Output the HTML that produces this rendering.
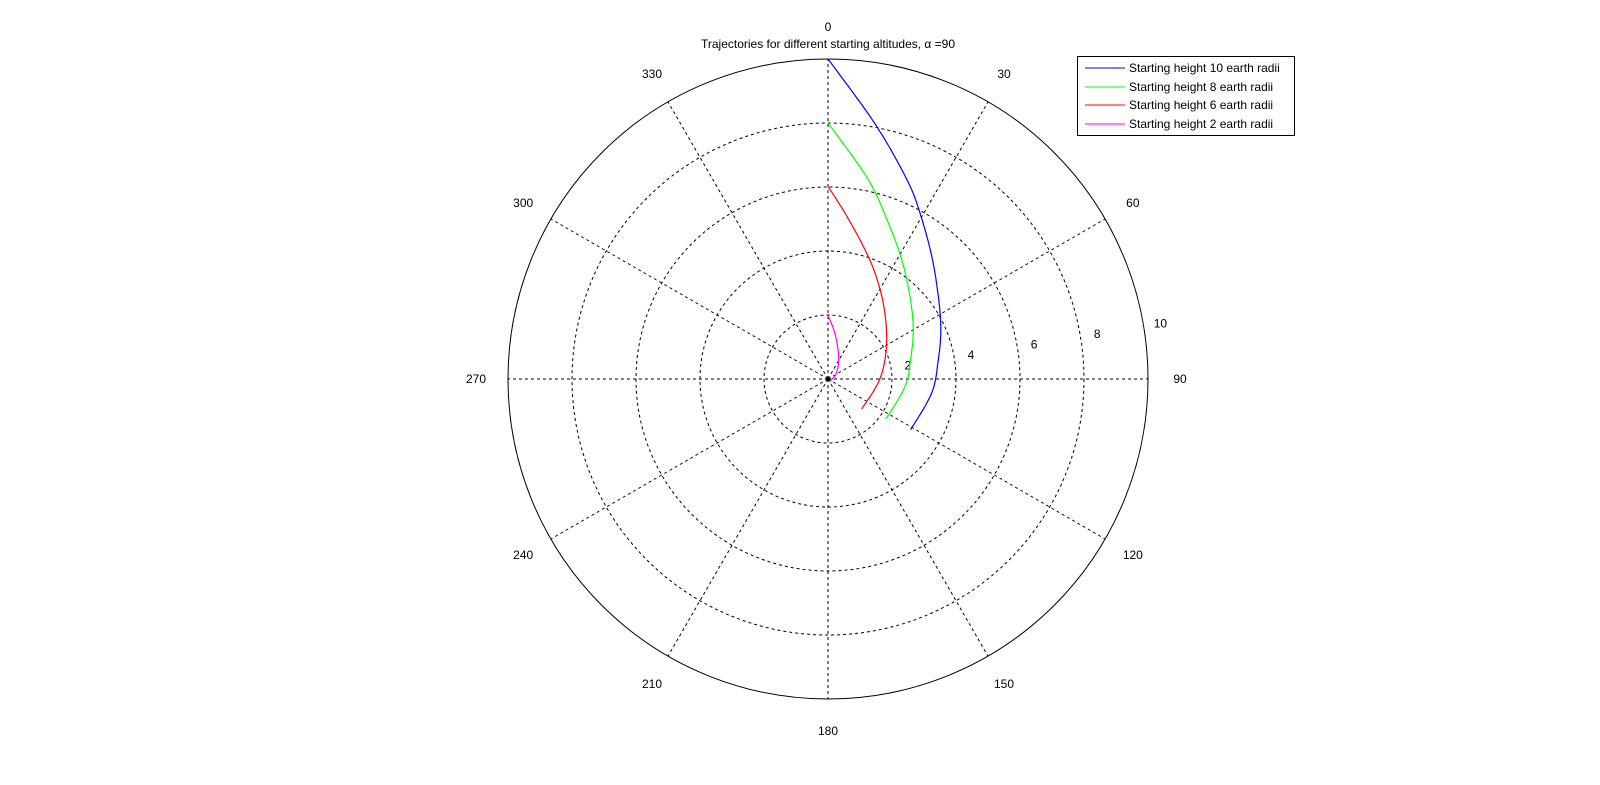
<!DOCTYPE html>
<html><head><meta charset="utf-8"><style>
html,body{margin:0;padding:0;background:#fff;}
svg{display:block;font-family:"Liberation Sans",sans-serif;}
</style></head><body>
<svg id="chart" width="1600" height="785" viewBox="0 0 1600 785">
<text x="828" y="48" font-size="12" text-anchor="middle">Trajectories for different starting altitudes, α =90</text>
<g id="grid"></g>
<g id="series"></g>
<g>
<rect x="1077.5" y="56.5" width="217" height="79" fill="#fff" stroke="#000"/>
<line x1="1085" y1="68" x2="1125" y2="68" stroke="#0000ff"/>
<text x="1129" y="72" font-size="12">Starting height 10 earth radii</text>
<line x1="1085" y1="87" x2="1125" y2="87" stroke="#00ff00"/>
<text x="1129" y="91" font-size="12">Starting height 8 earth radii</text>
<line x1="1085" y1="105" x2="1125" y2="105" stroke="#ff0000"/>
<text x="1129" y="109" font-size="12">Starting height 6 earth radii</text>
<line x1="1085" y1="124" x2="1125" y2="124" stroke="#ff00ff"/>
<text x="1129" y="128" font-size="12">Starting height 2 earth radii</text>
</g>
</svg>
<script>
const rTicks = [2, 4, 6, 8, 10];
const angleTicks = [0, 30, 60, 90, 120, 150, 180, 210, 240, 270, 300, 330];
const blueTheta = [0, 10.5, 21.5, 28.9, 40.1, 53.1, 66.3, 80, 97.7, 121.6];
const blueR = [10, 8.10, 6.71, 5.94, 5.03, 4.31, 3.85, 3.50, 3.27, 3.03];
const greenTheta = [0, 11.3, 21, 31.6, 44.7, 59.9, 76.8, 95.5, 124.7];
const greenR = [8, 6.37, 5.24, 4.39, 3.64, 3.08, 2.65, 2.42, 2.20];
const redTheta = [0, 5.7, 14.8, 23.8, 35.9, 51.8, 71.2, 94.6, 131.9];
const redR = [6.02, 5.23, 4.30, 3.63, 2.94, 2.33, 1.88, 1.57, 1.41];
const magTheta = [0, 8.3, 25.3, 54.5, 145];
const magR = [1.98, 1.46, 0.78, 0.32, 0.09];

const NS = "http://www.w3.org/2000/svg";
const cx = 828, cy = 379, R = 320, rMax = 10;
function rs(r){ return r / rMax * R; }
function px(th, r){ const a = th * Math.PI / 180; return cx + rs(r) * Math.sin(a); }
function py(th, r){ const a = th * Math.PI / 180; return cy - rs(r) * Math.cos(a); }
function mk(tag, attrs){ const e = document.createElementNS(NS, tag); for (const k in attrs) e.setAttribute(k, attrs[k]); return e; }
const grid = document.getElementById('grid');
angleTicks.forEach(a => {
  const l = mk('line', {x1: cx, y1: cy, x2: px(a, rMax), y2: py(a, rMax), stroke: '#000', 'stroke-dasharray': '3,3', 'stroke-width': 1});
  
  
  grid.appendChild(l);
  const t = mk('text', {x: px(a, 11), y: py(a, 11) + 4, 'font-size': 12, 'text-anchor': 'middle'});
  t.textContent = a;
  
  
  grid.appendChild(t);
});
rTicks.forEach(r => {
  const c = mk('circle', {cx: cx, cy: cy, r: rs(r), fill: 'none', stroke: '#000', 'stroke-width': 1});
  if (r < rMax) c.setAttribute('stroke-dasharray', '3,3');
  
  
  grid.appendChild(c);
  const d = rs(r) + 17, a = 80.5 * Math.PI / 180;
  const t = mk('text', {x: cx + d * Math.sin(a), y: cy - d * Math.cos(a) + 4, 'font-size': 12, 'text-anchor': 'middle'});
  t.textContent = r;
  
  
  grid.appendChild(t);
});
const ser = document.getElementById('series');
function addSeries(th, rr, color, name){
  const X = th.map((t, i) => px(t, rr[i]));
  const Y = th.map((t, i) => py(t, rr[i]));
  const n = X.length;
  const pts = [];
  for (let i = 0; i < n - 1; i++) {
    const i0 = Math.max(i-1,0), i3 = Math.min(i+2, n-1);
    for (let s = 0; s < 16; s++) {
      const u = s / 16, u2 = u*u, u3 = u2*u;
      const f = (p0,p1,p2,p3) => 0.5*((2*p1)+(-p0+p2)*u+(2*p0-5*p1+4*p2-p3)*u2+(-p0+3*p1-3*p2+p3)*u3);
      pts.push(f(X[i0],X[i],X[i+1],X[i3]).toFixed(1) + ',' + f(Y[i0],Y[i],Y[i+1],Y[i3]).toFixed(1));
    }
  }
  pts.push(X[n-1].toFixed(1) + ',' + Y[n-1].toFixed(1));
  const p = mk('polyline', {points: pts.join(' '), fill: 'none', stroke: color, 'stroke-width': 1.2});
  
  
  ser.appendChild(p);
}
addSeries(blueTheta, blueR, '#0000ff', 'trajectory-10');
addSeries(greenTheta, greenR, '#00ff00', 'trajectory-8');
addSeries(redTheta, redR, '#ff0000', 'trajectory-6');
addSeries(magTheta, magR, '#ff00ff', 'trajectory-2');
</script>
</body></html>
